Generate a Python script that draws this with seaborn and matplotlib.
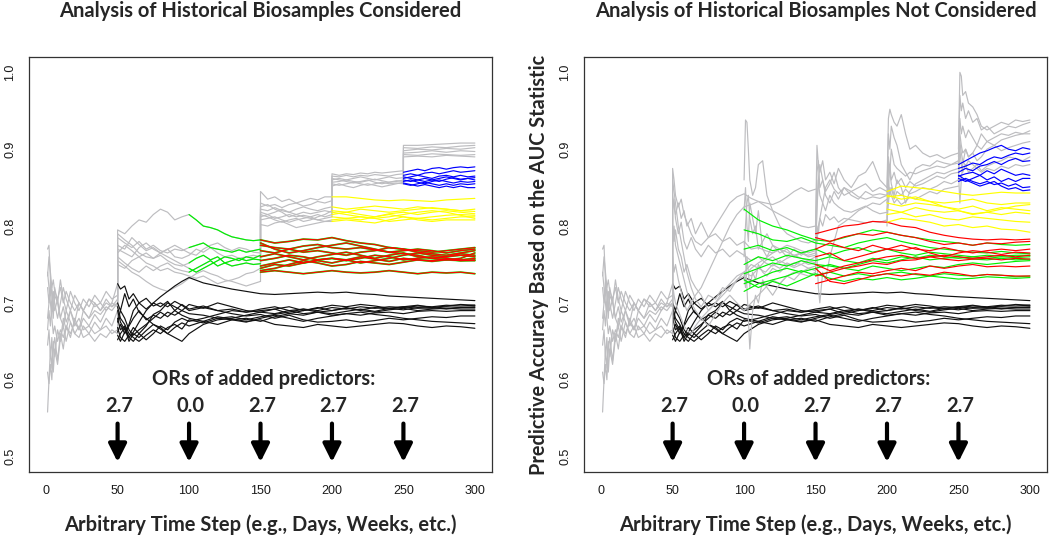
"""Two-panel AUC trajectories, historical biosamples considered vs not."""

import matplotlib

matplotlib.use("Agg")
import matplotlib.pyplot as plt
import numpy as np
import pandas as pd
import seaborn as sns

# ---------------------------------------------------------------- data
STEP_LABELS = [0, 50, 100, 150, 200, 250, 300]
AUC_TICKS = [0.5, 0.6, 0.7, 0.8, 0.9, 1.0]
ADD_STEPS = [50, 100, 150, 200, 250]
OR_LABELS = ["2.7", "0.0", "2.7", "2.7", "2.7"]

# shared: base model, steps 1-50 (gray)
t_base = [1, 2, 3, 4, 5, 6, 8, 10, 12, 14, 17, 20, 23, 26, 30, 34, 38, 42, 46, 50]
auc_base = [
    [0.558, 0.600, 0.640, 0.615, 0.650, 0.630, 0.665, 0.650, 0.680, 0.665, 0.690, 0.675, 0.700, 0.690, 0.705, 0.695, 0.700, 0.690, 0.700, 0.695],
    [0.610, 0.595, 0.620, 0.600, 0.640, 0.655, 0.625, 0.660, 0.640, 0.670, 0.655, 0.680, 0.665, 0.690, 0.680, 0.700, 0.690, 0.705, 0.695, 0.700],
    [0.645, 0.665, 0.630, 0.655, 0.610, 0.640, 0.620, 0.655, 0.670, 0.650, 0.675, 0.660, 0.655, 0.670, 0.660, 0.675, 0.665, 0.680, 0.670, 0.690],
    [0.665, 0.690, 0.670, 0.700, 0.680, 0.720, 0.700, 0.730, 0.705, 0.690, 0.715, 0.700, 0.690, 0.705, 0.695, 0.710, 0.700, 0.715, 0.705, 0.710],
    [0.680, 0.700, 0.720, 0.690, 0.715, 0.700, 0.680, 0.700, 0.720, 0.705, 0.690, 0.710, 0.700, 0.690, 0.705, 0.700, 0.690, 0.700, 0.695, 0.705],
    [0.720, 0.700, 0.730, 0.710, 0.690, 0.710, 0.700, 0.680, 0.670, 0.690, 0.675, 0.660, 0.670, 0.655, 0.660, 0.650, 0.660, 0.655, 0.665, 0.660],
    [0.735, 0.760, 0.740, 0.720, 0.730, 0.715, 0.705, 0.720, 0.700, 0.715, 0.700, 0.690, 0.700, 0.690, 0.680, 0.690, 0.685, 0.695, 0.690, 0.700],
    [0.770, 0.775, 0.730, 0.720, 0.700, 0.690, 0.705, 0.680, 0.695, 0.675, 0.690, 0.670, 0.680, 0.665, 0.670, 0.660, 0.665, 0.670, 0.660, 0.665],
    [0.740, 0.720, 0.700, 0.680, 0.660, 0.670, 0.650, 0.665, 0.655, 0.670, 0.660, 0.675, 0.665, 0.680, 0.670, 0.685, 0.675, 0.690, 0.700, 0.725],
]

# shared: model frozen after step 50 (black)
t_black = [50, 52, 55, 58, 61, 65, 70, 75, 80, 85, 90, 95, 100, 110, 120, 130, 140, 150, 160, 170, 180, 190, 200,
           210, 220, 230, 240, 250, 260, 270, 280, 290, 300]
auc_black = [
    [0.725, 0.718, 0.722, 0.705, 0.712, 0.700, 0.692, 0.700, 0.708, 0.715, 0.722, 0.728, 0.733, 0.726, 0.722, 0.718, 0.715, 0.712, 0.711, 0.712, 0.713, 0.714, 0.713, 0.714, 0.712, 0.711, 0.709, 0.708, 0.707, 0.706, 0.705, 0.704, 0.703],
    [0.700, 0.690, 0.712, 0.695, 0.705, 0.688, 0.680, 0.672, 0.668, 0.660, 0.655, 0.650, 0.660, 0.672, 0.678, 0.680, 0.684, 0.688, 0.686, 0.690, 0.692, 0.690, 0.694, 0.692, 0.695, 0.693, 0.695, 0.694, 0.696, 0.695, 0.697, 0.696, 0.697],
    [0.690, 0.675, 0.665, 0.655, 0.650, 0.660, 0.670, 0.685, 0.690, 0.700, 0.695, 0.690, 0.698, 0.693, 0.700, 0.695, 0.690, 0.688, 0.692, 0.686, 0.690, 0.694, 0.690, 0.693, 0.691, 0.694, 0.692, 0.695, 0.693, 0.694, 0.692, 0.694, 0.695],
    [0.680, 0.665, 0.670, 0.655, 0.662, 0.675, 0.690, 0.700, 0.695, 0.702, 0.690, 0.698, 0.692, 0.696, 0.690, 0.686, 0.683, 0.685, 0.680, 0.684, 0.678, 0.675, 0.676, 0.678, 0.675, 0.677, 0.680, 0.678, 0.680, 0.682, 0.681, 0.683, 0.683],
    [0.675, 0.690, 0.680, 0.665, 0.658, 0.665, 0.672, 0.680, 0.688, 0.682, 0.690, 0.684, 0.680, 0.676, 0.682, 0.679, 0.676, 0.678, 0.672, 0.670, 0.668, 0.672, 0.670, 0.668, 0.670, 0.672, 0.674, 0.673, 0.670, 0.668, 0.670, 0.669, 0.667],
    [0.668, 0.655, 0.650, 0.658, 0.668, 0.660, 0.652, 0.660, 0.670, 0.665, 0.675, 0.680, 0.676, 0.680, 0.685, 0.690, 0.688, 0.692, 0.695, 0.690, 0.686, 0.688, 0.684, 0.686, 0.688, 0.685, 0.683, 0.680, 0.678, 0.676, 0.675, 0.674, 0.673],
    [0.662, 0.672, 0.660, 0.670, 0.680, 0.690, 0.678, 0.684, 0.680, 0.688, 0.684, 0.690, 0.686, 0.684, 0.680, 0.682, 0.678, 0.682, 0.685, 0.688, 0.692, 0.688, 0.690, 0.694, 0.690, 0.688, 0.691, 0.693, 0.690, 0.692, 0.693, 0.692, 0.692],
    [0.658, 0.650, 0.662, 0.672, 0.690, 0.700, 0.706, 0.696, 0.700, 0.695, 0.702, 0.697, 0.690, 0.694, 0.690, 0.692, 0.688, 0.690, 0.692, 0.695, 0.690, 0.693, 0.697, 0.695, 0.698, 0.696, 0.693, 0.695, 0.697, 0.694, 0.696, 0.698, 0.697],
    [0.695, 0.680, 0.672, 0.660, 0.655, 0.650, 0.658, 0.665, 0.660, 0.668, 0.672, 0.666, 0.678, 0.674, 0.680, 0.678, 0.675, 0.680, 0.684, 0.680, 0.676, 0.680, 0.683, 0.686, 0.684, 0.687, 0.688, 0.686, 0.689, 0.690, 0.689, 0.690, 0.690],
    [0.652, 0.660, 0.668, 0.650, 0.660, 0.655, 0.664, 0.672, 0.666, 0.660, 0.668, 0.674, 0.670, 0.676, 0.672, 0.678, 0.680, 0.676, 0.682, 0.686, 0.684, 0.688, 0.686, 0.689, 0.692, 0.689, 0.693, 0.691, 0.694, 0.693, 0.695, 0.694, 0.694],
]

# left panel (historical biosamples considered)
t_l_gray1 = [50, 55, 60, 65, 70, 75, 80, 85, 90, 95, 100, 105, 110, 115, 120, 125, 130, 135, 140, 145, 150]
auc_l_gray1 = [
    [0.795, 0.790, 0.800, 0.808, 0.805, 0.815, 0.822, 0.818, 0.808, 0.812, 0.815, 0.808, 0.800, 0.798, 0.795, 0.790, 0.786, 0.784, 0.782, 0.781, 0.782],
    [0.785, 0.778, 0.772, 0.780, 0.770, 0.775, 0.768, 0.765, 0.770, 0.768, 0.772, 0.775, 0.778, 0.772, 0.770, 0.768, 0.766, 0.769, 0.766, 0.768, 0.770],
    [0.775, 0.770, 0.785, 0.776, 0.768, 0.772, 0.765, 0.770, 0.760, 0.758, 0.762, 0.770, 0.766, 0.772, 0.765, 0.760, 0.762, 0.758, 0.760, 0.762, 0.760],
    [0.765, 0.775, 0.768, 0.760, 0.765, 0.758, 0.762, 0.755, 0.750, 0.748, 0.752, 0.758, 0.762, 0.756, 0.760, 0.752, 0.755, 0.758, 0.755, 0.757, 0.756],
    [0.760, 0.752, 0.745, 0.740, 0.748, 0.742, 0.748, 0.752, 0.745, 0.742, 0.740, 0.745, 0.750, 0.755, 0.748, 0.752, 0.748, 0.750, 0.752, 0.750, 0.751],
    [0.750, 0.745, 0.755, 0.760, 0.752, 0.748, 0.742, 0.745, 0.740, 0.738, 0.735, 0.732, 0.735, 0.730, 0.725, 0.728, 0.730, 0.733, 0.738, 0.740, 0.745],
    [0.755, 0.748, 0.740, 0.735, 0.728, 0.722, 0.718, 0.715, 0.720, 0.725, 0.732, 0.738, 0.742, 0.738, 0.735, 0.730, 0.728, 0.725, 0.722, 0.725, 0.728],
    [0.770, 0.765, 0.760, 0.772, 0.778, 0.770, 0.765, 0.760, 0.755, 0.750, 0.745, 0.740, 0.745, 0.750, 0.755, 0.760, 0.758, 0.755, 0.760, 0.758, 0.762],
    [0.790, 0.782, 0.775, 0.765, 0.760, 0.758, 0.765, 0.770, 0.775, 0.770, 0.765, 0.762, 0.770, 0.775, 0.778, 0.772, 0.768, 0.772, 0.770, 0.766, 0.765],
]
l_green_lines = [0, 1, 3, 4, 7]  # gray trajectories that also carry the 0.0-OR predictor

t_l_red = [150, 160, 170, 180, 190, 200, 210, 220, 230, 240, 250, 260, 270, 280, 290, 300]
auc_l_red = [
    [0.782, 0.778, 0.780, 0.783, 0.782, 0.785, 0.781, 0.778, 0.776, 0.772, 0.770, 0.768, 0.766, 0.768, 0.770, 0.772],
    [0.775, 0.772, 0.770, 0.774, 0.776, 0.772, 0.770, 0.772, 0.769, 0.766, 0.768, 0.770, 0.768, 0.765, 0.768, 0.770],
    [0.768, 0.765, 0.770, 0.766, 0.768, 0.765, 0.762, 0.766, 0.768, 0.772, 0.770, 0.766, 0.764, 0.762, 0.765, 0.768],
    [0.760, 0.764, 0.760, 0.756, 0.760, 0.763, 0.766, 0.762, 0.758, 0.762, 0.765, 0.760, 0.758, 0.760, 0.762, 0.760],
    [0.755, 0.758, 0.762, 0.760, 0.756, 0.758, 0.755, 0.758, 0.762, 0.760, 0.756, 0.758, 0.760, 0.758, 0.756, 0.758],
    [0.748, 0.752, 0.756, 0.752, 0.755, 0.752, 0.756, 0.760, 0.757, 0.754, 0.758, 0.756, 0.755, 0.757, 0.755, 0.755],
    [0.745, 0.750, 0.748, 0.752, 0.756, 0.758, 0.756, 0.752, 0.755, 0.758, 0.762, 0.765, 0.762, 0.760, 0.764, 0.762],
    [0.742, 0.745, 0.750, 0.755, 0.752, 0.748, 0.750, 0.754, 0.752, 0.750, 0.753, 0.756, 0.754, 0.756, 0.758, 0.765],
    [0.740, 0.742, 0.740, 0.738, 0.740, 0.742, 0.740, 0.739, 0.740, 0.742, 0.740, 0.738, 0.740, 0.739, 0.740, 0.738],
    [0.778, 0.770, 0.765, 0.768, 0.772, 0.775, 0.778, 0.774, 0.770, 0.766, 0.764, 0.762, 0.758, 0.756, 0.755, 0.756],
]

t_l_gray2 = [150, 155, 160, 165, 170, 175, 180, 185, 190, 195, 200]
auc_l_gray2 = [
    [0.845, 0.835, 0.838, 0.832, 0.835, 0.830, 0.833, 0.836, 0.834, 0.838, 0.838],
    [0.830, 0.826, 0.828, 0.824, 0.828, 0.830, 0.826, 0.828, 0.832, 0.830, 0.833],
    [0.822, 0.820, 0.824, 0.820, 0.818, 0.822, 0.825, 0.822, 0.820, 0.823, 0.825],
    [0.818, 0.815, 0.818, 0.822, 0.818, 0.815, 0.818, 0.816, 0.818, 0.820, 0.818],
    [0.812, 0.815, 0.810, 0.812, 0.815, 0.812, 0.814, 0.812, 0.815, 0.812, 0.815],
    [0.808, 0.810, 0.812, 0.808, 0.805, 0.808, 0.810, 0.812, 0.808, 0.810, 0.812],
    [0.815, 0.812, 0.808, 0.805, 0.808, 0.810, 0.806, 0.808, 0.812, 0.815, 0.820],
    [0.802, 0.800, 0.804, 0.806, 0.802, 0.798, 0.800, 0.802, 0.804, 0.806, 0.806],
    [0.825, 0.828, 0.822, 0.818, 0.812, 0.815, 0.812, 0.810, 0.808, 0.806, 0.808],
]

t_l_yellow = [200, 210, 220, 230, 240, 250, 260, 270, 280, 290, 300]
auc_l_yellow = [
    [0.838, 0.838, 0.836, 0.834, 0.833, 0.834, 0.833, 0.832, 0.834, 0.835, 0.836],
    [0.825, 0.822, 0.824, 0.826, 0.824, 0.822, 0.825, 0.823, 0.822, 0.820, 0.822],
    [0.820, 0.818, 0.822, 0.820, 0.818, 0.820, 0.822, 0.824, 0.822, 0.820, 0.819],
    [0.815, 0.818, 0.815, 0.812, 0.816, 0.818, 0.815, 0.818, 0.820, 0.818, 0.816],
    [0.812, 0.810, 0.808, 0.812, 0.815, 0.812, 0.810, 0.812, 0.814, 0.815, 0.814],
    [0.808, 0.810, 0.812, 0.810, 0.806, 0.808, 0.810, 0.808, 0.810, 0.812, 0.812],
    [0.818, 0.815, 0.812, 0.810, 0.812, 0.815, 0.818, 0.820, 0.818, 0.814, 0.810],
    [0.806, 0.808, 0.806, 0.804, 0.808, 0.812, 0.808, 0.806, 0.808, 0.808, 0.808],
]

t_l_gray3 = [200, 205, 210, 215, 220, 225, 230, 235, 240, 245, 250]
auc_l_gray3 = [
    [0.868, 0.866, 0.868, 0.867, 0.869, 0.868, 0.870, 0.869, 0.870, 0.871, 0.872],
    [0.865, 0.864, 0.866, 0.864, 0.866, 0.865, 0.867, 0.866, 0.865, 0.867, 0.868],
    [0.860, 0.862, 0.860, 0.862, 0.864, 0.862, 0.860, 0.862, 0.864, 0.862, 0.863],
    [0.857, 0.858, 0.860, 0.858, 0.857, 0.859, 0.861, 0.859, 0.857, 0.858, 0.860],
    [0.855, 0.853, 0.855, 0.857, 0.855, 0.853, 0.855, 0.857, 0.855, 0.856, 0.855],
    [0.852, 0.855, 0.852, 0.850, 0.853, 0.855, 0.853, 0.851, 0.853, 0.855, 0.857],
    [0.862, 0.860, 0.858, 0.856, 0.858, 0.860, 0.857, 0.855, 0.857, 0.859, 0.858],
]

t_l_blue = [250, 255, 260, 265, 270, 275, 280, 285, 290, 295, 300]
auc_l_blue = [
    [0.870, 0.872, 0.874, 0.872, 0.875, 0.876, 0.874, 0.876, 0.877, 0.876, 0.877],
    [0.866, 0.868, 0.866, 0.869, 0.870, 0.868, 0.870, 0.872, 0.870, 0.871, 0.872],
    [0.862, 0.864, 0.866, 0.864, 0.862, 0.865, 0.866, 0.864, 0.866, 0.864, 0.865],
    [0.860, 0.858, 0.860, 0.862, 0.860, 0.858, 0.861, 0.863, 0.861, 0.862, 0.863],
    [0.858, 0.860, 0.857, 0.855, 0.858, 0.860, 0.858, 0.856, 0.858, 0.857, 0.858],
    [0.855, 0.853, 0.855, 0.857, 0.855, 0.853, 0.855, 0.853, 0.855, 0.854, 0.855],
    [0.856, 0.854, 0.852, 0.854, 0.852, 0.850, 0.852, 0.850, 0.852, 0.850, 0.850],
    [0.864, 0.862, 0.860, 0.858, 0.860, 0.862, 0.864, 0.862, 0.860, 0.862, 0.860],
]

t_l_gray4 = [250, 260, 270, 280, 290, 300]
auc_l_gray4 = [
    [0.905, 0.905, 0.906, 0.907, 0.908, 0.908],
    [0.902, 0.901, 0.903, 0.902, 0.904, 0.905],
    [0.898, 0.900, 0.899, 0.901, 0.900, 0.902],
    [0.895, 0.896, 0.898, 0.896, 0.898, 0.897],
    [0.893, 0.892, 0.894, 0.893, 0.892, 0.893],
    [0.890, 0.891, 0.890, 0.892, 0.891, 0.890],
]

# right panel (historical biosamples not considered)
t_r_gray1 = [50, 51, 52, 54, 56, 58, 60, 63, 66, 70, 75, 80, 85, 90, 95, 100, 105, 110, 115, 120, 125, 130, 135,
             140, 145, 150]
auc_r_gray1 = [
    [0.875, 0.860, 0.840, 0.825, 0.835, 0.815, 0.805, 0.790, 0.780, 0.775, 0.785, 0.800, 0.815, 0.830, 0.838, 0.842, 0.836, 0.832, 0.830, 0.828, 0.832, 0.838, 0.845, 0.850, 0.845, 0.848],
    [0.860, 0.845, 0.830, 0.800, 0.780, 0.760, 0.740, 0.720, 0.705, 0.695, 0.710, 0.705, 0.720, 0.715, 0.730, 0.740, 0.735, 0.745, 0.740, 0.750, 0.745, 0.752, 0.748, 0.755, 0.750, 0.752],
    [0.840, 0.825, 0.815, 0.830, 0.810, 0.820, 0.800, 0.810, 0.790, 0.805, 0.785, 0.790, 0.780, 0.785, 0.775, 0.780, 0.770, 0.772, 0.768, 0.765, 0.770, 0.766, 0.762, 0.765, 0.760, 0.762],
    [0.820, 0.835, 0.810, 0.790, 0.805, 0.780, 0.770, 0.785, 0.770, 0.760, 0.775, 0.765, 0.770, 0.760, 0.768, 0.762, 0.755, 0.760, 0.752, 0.748, 0.755, 0.750, 0.746, 0.750, 0.745, 0.748],
    [0.800, 0.780, 0.795, 0.770, 0.760, 0.740, 0.750, 0.730, 0.720, 0.710, 0.690, 0.700, 0.715, 0.725, 0.735, 0.740, 0.750, 0.745, 0.755, 0.760, 0.752, 0.758, 0.762, 0.758, 0.755, 0.760],
    [0.780, 0.800, 0.775, 0.760, 0.745, 0.730, 0.715, 0.700, 0.690, 0.680, 0.670, 0.685, 0.700, 0.710, 0.700, 0.690, 0.700, 0.710, 0.720, 0.730, 0.725, 0.735, 0.740, 0.738, 0.735, 0.740],
    [0.760, 0.740, 0.750, 0.730, 0.715, 0.700, 0.690, 0.700, 0.710, 0.720, 0.740, 0.760, 0.780, 0.800, 0.815, 0.825, 0.828, 0.832, 0.826, 0.820, 0.815, 0.810, 0.805, 0.800, 0.798, 0.800],
    [0.725, 0.710, 0.700, 0.690, 0.680, 0.670, 0.665, 0.660, 0.670, 0.680, 0.690, 0.700, 0.710, 0.720, 0.730, 0.735, 0.745, 0.752, 0.758, 0.765, 0.770, 0.775, 0.772, 0.768, 0.765, 0.768],
]

t_r_gray2 = [100, 101, 102, 103, 104, 106, 108, 110, 113, 116, 120, 125, 130, 135, 140, 145, 150]
auc_r_gray2 = [
    [0.860, 0.938, 0.935, 0.900, 0.860, 0.840, 0.850, 0.880, 0.885, 0.840, 0.820, 0.800, 0.790, 0.785, 0.780, 0.778, 0.782],
    [0.820, 0.850, 0.800, 0.780, 0.830, 0.810, 0.790, 0.820, 0.770, 0.760, 0.775, 0.765, 0.770, 0.760, 0.765, 0.762, 0.765],
    [0.780, 0.760, 0.720, 0.680, 0.640, 0.690, 0.710, 0.700, 0.730, 0.720, 0.710, 0.725, 0.735, 0.730, 0.740, 0.745, 0.742],
    [0.760, 0.800, 0.830, 0.840, 0.810, 0.790, 0.800, 0.770, 0.780, 0.790, 0.775, 0.770, 0.760, 0.770, 0.762, 0.768, 0.770],
    [0.740, 0.720, 0.760, 0.740, 0.720, 0.740, 0.730, 0.750, 0.740, 0.735, 0.745, 0.740, 0.748, 0.752, 0.750, 0.755, 0.752],
]

t_r_green = [100, 110, 120, 130, 140, 150, 160, 170, 180, 190, 200, 210, 220, 230, 240, 250, 260, 270, 280, 290, 300]
auc_r_green = [
    [0.822, 0.808, 0.800, 0.795, 0.788, 0.782, 0.780, 0.785, 0.790, 0.795, 0.792, 0.788, 0.785, 0.782, 0.780, 0.778, 0.775, 0.778, 0.776, 0.775, 0.776],
    [0.795, 0.790, 0.782, 0.780, 0.785, 0.778, 0.775, 0.772, 0.778, 0.782, 0.785, 0.780, 0.776, 0.772, 0.770, 0.768, 0.766, 0.765, 0.767, 0.765, 0.764],
    [0.770, 0.775, 0.768, 0.772, 0.765, 0.770, 0.762, 0.768, 0.772, 0.766, 0.770, 0.765, 0.762, 0.766, 0.764, 0.762, 0.760, 0.762, 0.761, 0.762, 0.762],
    [0.750, 0.760, 0.755, 0.762, 0.758, 0.755, 0.760, 0.755, 0.752, 0.758, 0.755, 0.760, 0.758, 0.762, 0.760, 0.758, 0.760, 0.758, 0.760, 0.759, 0.760],
    [0.738, 0.745, 0.752, 0.748, 0.755, 0.750, 0.748, 0.745, 0.750, 0.755, 0.752, 0.756, 0.760, 0.756, 0.758, 0.760, 0.757, 0.756, 0.758, 0.756, 0.757],
    [0.725, 0.732, 0.740, 0.745, 0.740, 0.745, 0.750, 0.745, 0.742, 0.748, 0.745, 0.742, 0.745, 0.748, 0.746, 0.750, 0.752, 0.750, 0.752, 0.754, 0.755],
    [0.715, 0.725, 0.730, 0.735, 0.742, 0.736, 0.740, 0.735, 0.738, 0.735, 0.738, 0.740, 0.737, 0.735, 0.738, 0.736, 0.735, 0.737, 0.736, 0.734, 0.735],
    [0.730, 0.720, 0.728, 0.722, 0.730, 0.738, 0.732, 0.728, 0.732, 0.730, 0.733, 0.730, 0.732, 0.735, 0.733, 0.731, 0.732, 0.734, 0.733, 0.732, 0.733],
]

t_r_red = [150, 160, 170, 180, 190, 200, 210, 220, 230, 240, 250, 260, 270, 280, 290, 300]
auc_r_red = [
    [0.790, 0.795, 0.800, 0.802, 0.806, 0.805, 0.800, 0.798, 0.792, 0.788, 0.785, 0.783, 0.782, 0.783, 0.782, 0.783],
    [0.785, 0.780, 0.786, 0.790, 0.788, 0.792, 0.788, 0.785, 0.780, 0.776, 0.778, 0.775, 0.778, 0.777, 0.779, 0.780],
    [0.770, 0.778, 0.772, 0.768, 0.775, 0.770, 0.775, 0.770, 0.768, 0.772, 0.768, 0.765, 0.768, 0.770, 0.768, 0.770],
    [0.760, 0.765, 0.755, 0.760, 0.765, 0.770, 0.768, 0.772, 0.765, 0.760, 0.765, 0.768, 0.766, 0.763, 0.766, 0.765],
    [0.750, 0.742, 0.748, 0.752, 0.756, 0.760, 0.762, 0.758, 0.760, 0.762, 0.760, 0.758, 0.760, 0.762, 0.760, 0.762],
    [0.735, 0.740, 0.745, 0.748, 0.752, 0.750, 0.755, 0.756, 0.760, 0.757, 0.755, 0.757, 0.758, 0.756, 0.758, 0.757],
    [0.725, 0.730, 0.735, 0.740, 0.738, 0.742, 0.745, 0.742, 0.748, 0.745, 0.748, 0.750, 0.747, 0.748, 0.747, 0.748],
    [0.745, 0.728, 0.725, 0.730, 0.735, 0.738, 0.735, 0.738, 0.736, 0.740, 0.738, 0.735, 0.737, 0.736, 0.735, 0.735],
]

t_r_gray3 = [150, 151, 152, 153, 155, 157, 160, 163, 166, 170, 175, 180, 185, 190, 195, 200]
auc_r_gray3 = [
    [0.800, 0.905, 0.880, 0.870, 0.885, 0.860, 0.870, 0.855, 0.875, 0.860, 0.850, 0.865, 0.870, 0.884, 0.860, 0.850],
    [0.790, 0.870, 0.885, 0.850, 0.860, 0.845, 0.855, 0.870, 0.850, 0.840, 0.845, 0.850, 0.855, 0.845, 0.850, 0.845],
    [0.780, 0.760, 0.720, 0.700, 0.740, 0.730, 0.760, 0.780, 0.800, 0.805, 0.812, 0.820, 0.825, 0.830, 0.828, 0.835],
    [0.770, 0.820, 0.860, 0.880, 0.860, 0.840, 0.830, 0.845, 0.835, 0.850, 0.840, 0.835, 0.845, 0.840, 0.842, 0.840],
    [0.760, 0.780, 0.800, 0.810, 0.830, 0.850, 0.860, 0.848, 0.842, 0.850, 0.845, 0.838, 0.835, 0.838, 0.836, 0.840],
    [0.750, 0.830, 0.860, 0.840, 0.830, 0.820, 0.840, 0.830, 0.825, 0.820, 0.818, 0.822, 0.826, 0.820, 0.816, 0.818],
    [0.740, 0.800, 0.790, 0.810, 0.800, 0.815, 0.808, 0.812, 0.805, 0.810, 0.808, 0.806, 0.804, 0.806, 0.805, 0.808],
]

t_r_gray4 = [200, 201, 202, 203, 205, 207, 210, 213, 216, 220, 225, 230, 235, 240, 245, 250]
auc_r_gray4 = [
    [0.850, 0.940, 0.952, 0.945, 0.935, 0.930, 0.945, 0.920, 0.900, 0.905, 0.895, 0.890, 0.893, 0.888, 0.892, 0.895],
    [0.840, 0.920, 0.900, 0.930, 0.915, 0.905, 0.880, 0.870, 0.860, 0.875, 0.880, 0.878, 0.885, 0.882, 0.880, 0.885],
    [0.830, 0.880, 0.870, 0.855, 0.840, 0.860, 0.850, 0.830, 0.845, 0.855, 0.860, 0.865, 0.870, 0.868, 0.872, 0.875],
    [0.820, 0.850, 0.880, 0.860, 0.870, 0.855, 0.862, 0.850, 0.858, 0.852, 0.855, 0.860, 0.865, 0.862, 0.868, 0.870],
    [0.810, 0.860, 0.840, 0.850, 0.835, 0.845, 0.840, 0.848, 0.842, 0.845, 0.850, 0.848, 0.852, 0.858, 0.855, 0.860],
    [0.805, 0.830, 0.850, 0.840, 0.830, 0.835, 0.828, 0.832, 0.838, 0.835, 0.840, 0.845, 0.842, 0.848, 0.850, 0.852],
    [0.800, 0.890, 0.870, 0.900, 0.880, 0.875, 0.870, 0.865, 0.870, 0.868, 0.872, 0.875, 0.878, 0.876, 0.880, 0.882],
]

t_r_yellow = [200, 210, 220, 230, 240, 250, 260, 270, 280, 290, 300]
auc_r_yellow = [
    [0.845, 0.852, 0.850, 0.848, 0.845, 0.842, 0.840, 0.842, 0.844, 0.843, 0.843],
    [0.838, 0.840, 0.835, 0.832, 0.830, 0.832, 0.835, 0.830, 0.828, 0.830, 0.830],
    [0.830, 0.826, 0.830, 0.828, 0.825, 0.822, 0.826, 0.820, 0.824, 0.822, 0.820],
    [0.822, 0.818, 0.824, 0.820, 0.818, 0.820, 0.816, 0.818, 0.815, 0.818, 0.816],
    [0.815, 0.818, 0.812, 0.815, 0.810, 0.808, 0.812, 0.810, 0.808, 0.806, 0.805],
    [0.805, 0.810, 0.808, 0.805, 0.800, 0.802, 0.798, 0.800, 0.796, 0.795, 0.792],
    [0.840, 0.835, 0.838, 0.832, 0.825, 0.820, 0.815, 0.818, 0.822, 0.826, 0.828],
]

t_r_gray5 = [250, 251, 252, 253, 255, 257, 260, 263, 266, 270, 275, 280, 285, 290, 295, 300]
auc_r_gray5 = [
    [0.900, 1.000, 0.995, 0.970, 0.975, 0.960, 0.955, 0.945, 0.930, 0.925, 0.930, 0.935, 0.932, 0.938, 0.936, 0.938],
    [0.890, 0.970, 0.950, 0.960, 0.940, 0.950, 0.935, 0.940, 0.925, 0.930, 0.920, 0.925, 0.930, 0.928, 0.932, 0.935],
    [0.880, 0.940, 0.920, 0.930, 0.915, 0.925, 0.915, 0.905, 0.920, 0.910, 0.915, 0.920, 0.918, 0.922, 0.920, 0.924],
    [0.870, 0.830, 0.860, 0.880, 0.900, 0.890, 0.895, 0.905, 0.900, 0.910, 0.905, 0.912, 0.915, 0.918, 0.920, 0.920],
    [0.885, 0.920, 0.905, 0.895, 0.900, 0.890, 0.895, 0.885, 0.890, 0.900, 0.905, 0.898, 0.902, 0.905, 0.908, 0.910],
    [0.860, 0.900, 0.880, 0.870, 0.880, 0.870, 0.875, 0.880, 0.872, 0.878, 0.882, 0.885, 0.890, 0.888, 0.885, 0.890],
    [0.875, 0.910, 0.895, 0.885, 0.878, 0.885, 0.880, 0.875, 0.870, 0.875, 0.872, 0.878, 0.875, 0.880, 0.878, 0.880],
]

t_r_blue = [250, 255, 260, 265, 270, 275, 280, 285, 290, 295, 300]
auc_r_blue = [
    [0.880, 0.885, 0.890, 0.895, 0.898, 0.902, 0.905, 0.900, 0.898, 0.902, 0.900],
    [0.875, 0.878, 0.882, 0.880, 0.886, 0.890, 0.888, 0.892, 0.895, 0.893, 0.895],
    [0.870, 0.875, 0.872, 0.878, 0.880, 0.884, 0.880, 0.885, 0.888, 0.884, 0.885],
    [0.865, 0.868, 0.870, 0.866, 0.872, 0.868, 0.874, 0.870, 0.866, 0.868, 0.866],
    [0.862, 0.858, 0.862, 0.866, 0.860, 0.864, 0.858, 0.862, 0.858, 0.862, 0.862],
    [0.858, 0.862, 0.858, 0.855, 0.858, 0.854, 0.856, 0.852, 0.855, 0.850, 0.851],
    [0.866, 0.860, 0.856, 0.852, 0.855, 0.858, 0.852, 0.848, 0.850, 0.846, 0.847],
]

# ---------------------------------------------------------------- style
COLORS = {
    "gray": "#BDBDC0",
    "black": "#111111",
    "green": "#00F000",
    "red": "#FF0000",
    "yellow": "#FFFF00",
    "blue": "#0000FF",
}
LINE_W = 0.85


def trajectories(steps, lines, lead=None):
    """Long frame of several trajectories; `lead` holds the previous segment's end values."""
    rows = []
    for i, vals in enumerate(lines):
        t = list(steps)
        y = list(vals)
        if lead is not None:
            t = [steps[0]] + t
            y = [lead[i][-1]] + y
        rows.append(pd.DataFrame({"step": t, "auc": y, "line": i}))
    return pd.concat(rows, ignore_index=True)


def draw(ax, frame, color, lw=LINE_W):
    sns.lineplot(data=frame, x="step", y="auc", units="line", estimator=None, sort=False,
                 color=color, lw=lw, legend=False, ax=ax)


def decorate(ax):
    ax.set_xlim(-12, 312)
    ax.set_ylim(0.48, 1.02)
    ax.set_xticks(STEP_LABELS)
    ax.set_yticks(AUC_TICKS)
    ax.set_yticklabels([f"{v:.1f}" for v in AUC_TICKS], rotation=90, va="center")
    ax.tick_params(direction="out", length=6, width=0.8, color="#333333", labelsize=9,
                   labelcolor="#1a1a1a", pad=3)
    for lab in ax.get_xticklabels() + ax.get_yticklabels():
        lab.set_family("Liberation Sans")
    for sp in ax.spines.values():
        sp.set_visible(True)
        sp.set_color("#333333")
        sp.set_linewidth(0.9)
    ax.set_xlabel("")
    ax.set_ylabel("")
    ax.grid(False)

    ax.text(152, 0.601, "ORs of added predictors:", ha="center", va="center",
            fontsize=14.5, fontweight="bold", family="Lato")
    for x, lab in zip(ADD_STEPS, OR_LABELS):
        ax.text(x + 1, 0.566, lab, ha="center", va="center", fontsize=14.5,
                fontweight="bold", family="Lato")
        ax.annotate("", xy=(x, 0.493), xytext=(x, 0.543),
                    arrowprops=dict(arrowstyle="-|>,head_width=0.45,head_length=0.9",
                                    color="black", lw=3, mutation_scale=12,
                                    shrinkA=0, shrinkB=0))


sns.set_theme(style="white")
plt.rcParams["font.family"] = ["Lato", "DejaVu Sans"]

fig = plt.figure(figsize=(10.5, 5.39), dpi=100)
ax_l = fig.add_axes([0.0276, 0.1243, 0.441, 0.770])
ax_r = fig.add_axes([0.5562, 0.1243, 0.441, 0.770])

base = trajectories(t_base, auc_base)
black = trajectories(t_black, auc_black)

# left panel
draw(ax_l, base, COLORS["gray"])
draw(ax_l, trajectories(t_l_gray1, auc_l_gray1, lead=auc_base), COLORS["gray"])
draw(ax_l, trajectories(t_l_gray2, auc_l_gray2, lead=auc_l_gray1), COLORS["gray"])
draw(ax_l, trajectories(t_l_gray3, auc_l_gray3, lead=auc_l_gray2), COLORS["gray"])
draw(ax_l, trajectories(t_l_gray4, auc_l_gray4, lead=auc_l_gray3), COLORS["gray"])
draw(ax_l, black, COLORS["black"])
start = t_l_gray1.index(100)
draw(ax_l, trajectories(t_l_gray1[start:], [auc_l_gray1[i][start:] for i in l_green_lines]),
     COLORS["green"])
red_left = trajectories(t_l_red, auc_l_red)
draw(ax_l, red_left, COLORS["green"], lw=1.3)
draw(ax_l, red_left, COLORS["red"])
draw(ax_l, trajectories(t_l_yellow, auc_l_yellow), COLORS["yellow"])
draw(ax_l, trajectories(t_l_blue, auc_l_blue), COLORS["blue"])

# right panel
draw(ax_r, base, COLORS["gray"])
draw(ax_r, black, COLORS["black"])
draw(ax_r, trajectories(t_r_gray1, auc_r_gray1, lead=auc_base), COLORS["gray"])
draw(ax_r, trajectories(t_r_gray2, auc_r_gray2), COLORS["gray"])
draw(ax_r, trajectories(t_r_gray3, auc_r_gray3), COLORS["gray"])
draw(ax_r, trajectories(t_r_gray4, auc_r_gray4), COLORS["gray"])
draw(ax_r, trajectories(t_r_gray5, auc_r_gray5), COLORS["gray"])
draw(ax_r, trajectories(t_r_green, auc_r_green), COLORS["green"])
draw(ax_r, trajectories(t_r_red, auc_r_red), COLORS["red"])
draw(ax_r, trajectories(t_r_yellow, auc_r_yellow), COLORS["yellow"])
draw(ax_r, trajectories(t_r_blue, auc_r_blue), COLORS["blue"])

for ax in (ax_l, ax_r):
    decorate(ax)

fig.text(0.2481, 0.979, "Analysis of Historical Biosamples Considered", ha="center", va="center",
         fontsize=14.5, fontweight="bold")
fig.text(0.7766, 0.979, "Analysis of Historical Biosamples Not Considered", ha="center", va="center",
         fontsize=14.5, fontweight="bold")
fig.text(0.2481, 0.026, "Arbitrary Time Step (e.g., Days, Weeks, etc.)", ha="center", va="center",
         fontsize=14.5, fontweight="bold")
fig.text(0.7766, 0.026, "Arbitrary Time Step (e.g., Days, Weeks, etc.)", ha="center", va="center",
         fontsize=14.5, fontweight="bold")
fig.text(0.513, 0.508, "Predictive Accuracy Based on the AUC Statistic", ha="center", va="center",
         rotation=90, fontsize=14.3, fontweight="bold")

fig.savefig("out.png", dpi=100, facecolor="white")
